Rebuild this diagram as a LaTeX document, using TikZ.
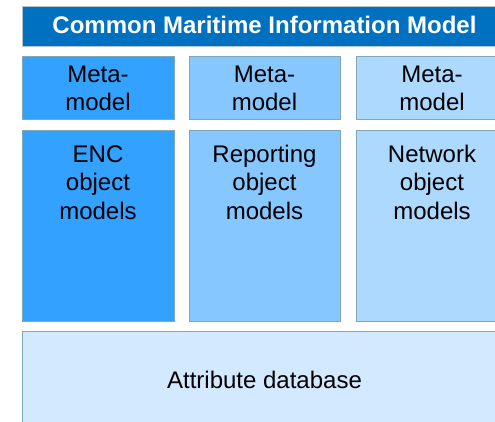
\documentclass[tikz,border=0pt]{standalone}
\usepackage{fontspec}
\setmainfont{Liberation Sans}
\begin{document}
\begin{tikzpicture}[x=1pt,y=-1pt,
  panel/.style={draw=bordergray,line width=0.8pt},
  % multi-line labels: the base anchor sits on the last line
  lbl/.style={inner sep=0pt,anchor=base,align=center,
    font=\fontsize{24}{28.5}\selectfont,text=black},
]
\definecolor{titleblue}{HTML}{0070C0}
\definecolor{colA}{HTML}{33A1FF}
\definecolor{colB}{HTML}{87C7FF}
\definecolor{colC}{HTML}{ADD9FF}
\definecolor{dbblue}{HTML}{D3E9FF}
\definecolor{bordergray}{HTML}{80A8B2}
\definecolor{titleedge}{HTML}{B2C6CC}

\useasboundingbox (0,0) rectangle (495,422);
\clip (0,0) rectangle (495,422);

% title bar
\draw[fill=titleblue,draw=titleedge,line width=0.8pt] (22,6) rectangle (508,46);
\node[inner sep=0pt,anchor=base,text=white,
  font=\fontsize{24}{28}\selectfont\bfseries] (title) at (264.5,34)
  {Common Maritime Information Model};

% meta-model row
\draw[panel,fill=colA] (22,56) rectangle (174,119);
\draw[panel,fill=colB] (189,56) rectangle (340,119);
\draw[panel,fill=colC] (356,56) rectangle (508,119);
\node[lbl] (metaA) at (98,111)  {Meta-\\model};
\node[lbl] (metaB) at (264.5,111) {Meta-\\model};
\node[lbl] (metaC) at (432,111) {Meta-\\model};

% object model row
\draw[panel,fill=colA] (22,130) rectangle (174,321);
\draw[panel,fill=colB] (189,130) rectangle (340,321);
\draw[panel,fill=colC] (356,130) rectangle (508,321);
\node[lbl] (objA) at (98,219)  {ENC\\object\\models};
\node[lbl] (objB) at (264.5,219) {Reporting\\object\\models};
\node[lbl] (objC) at (432,219) {Network\\object\\models};

% attribute database
\draw[panel,fill=dbblue] (22,331) rectangle (508,432);
\node[lbl] (db) at (264.5,388) {Attribute database};
\end{tikzpicture}
\end{document}
